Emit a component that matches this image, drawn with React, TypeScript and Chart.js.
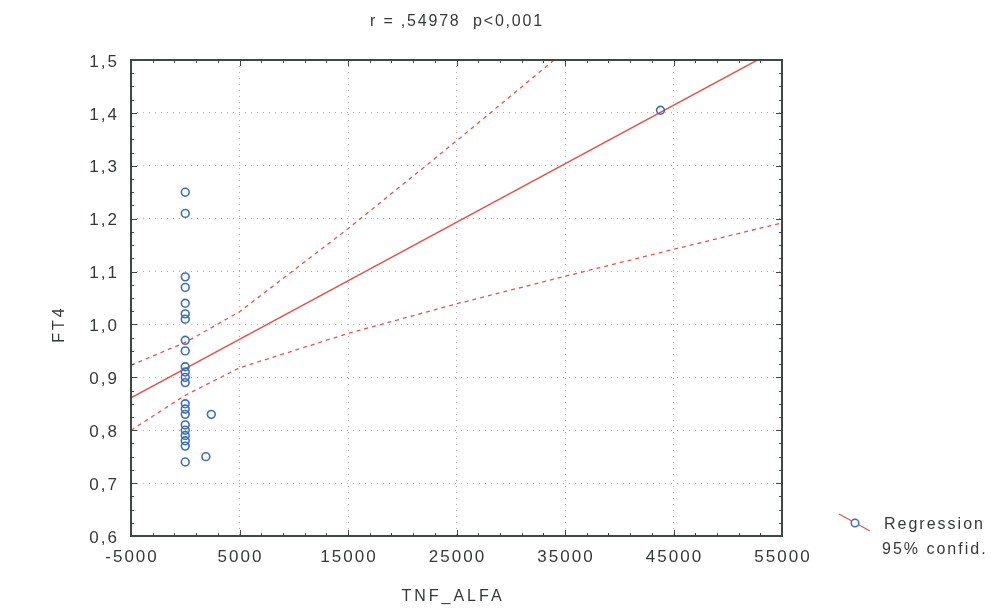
import React, { useEffect, useRef } from "react";
import { Chart, registerables } from "chart.js";

Chart.register(...registerables);

// ---- data ----
const tnfAlfa = [
  0, 0, 0, 0, 0, 0, 0, 0, 0, 0, 0, 0, 0, 0, 0, 0, 0, 0, 0, 0, 0, 0,
  1900, 2400, 43800,
];
const ft4 = [
  1.25, 1.21, 1.09, 1.07, 1.04, 1.02, 1.01, 0.97, 0.95, 0.92, 0.91, 0.9,
  0.89, 0.85, 0.84, 0.83, 0.81, 0.8, 0.79, 0.78, 0.77, 0.74,
  0.75, 0.83, 1.405,
];
const regX = [-5000, 55000];
const regY = [0.861, 1.525];
const bandX = [-5000, 0, 5000, 15000, 25000, 35000, 45000, 55000];
const bandUpper = [0.923, 0.966, 1.024, 1.181, 1.347, 1.517, 1.688, 1.858];
const bandLower = [0.8, 0.866, 0.918, 0.983, 1.039, 1.091, 1.142, 1.192];
const xTicks = [-5000, 5000, 15000, 25000, 35000, 45000, 55000];
const yTicks = [0.6, 0.7, 0.8, 0.9, 1.0, 1.1, 1.2, 1.3, 1.4, 1.5];
const titleText = "r = ,54978  p<0,001";
const xTitle = "TNF_ALFA";
const yTitle = "FT4";
const legendLabels = ["Regression", "95% confid."];

const RED = "#e0564f";
const BLUE = "#3f6fb0";
const FRAME = "#3e4842";
const TEXT = "#353a37";
const FONT = '"Liberation Sans", Arial, sans-serif';

const overlay = {
  id: "overlay",
  afterDraw(chart: any) {
    const { ctx, chartArea: a } = chart;
    const x = chart.scales.x;
    const y = chart.scales.y;
    ctx.save();
    // frame
    ctx.strokeStyle = FRAME;
    ctx.lineWidth = 2;
    ctx.setLineDash([]);
    ctx.strokeRect(a.left, a.top, a.right - a.left, a.bottom - a.top);
    // minor / major ticks (inward)
    ctx.lineWidth = 1;
    for (let v = x.min; v <= x.max + 1; v += 2000) {
      const px = Math.round(x.getPixelForValue(v)) + 0.5;
      const major = xTicks.includes(v);
      const len = major ? 6 : 3;
      ctx.beginPath();
      ctx.moveTo(px, a.bottom);
      ctx.lineTo(px, a.bottom - len);
      ctx.moveTo(px, a.top);
      ctx.lineTo(px, a.top + len);
      ctx.stroke();
    }
    for (let i = 0; i <= 36; i++) {
      const v = y.min + i * 0.025;
      const py = Math.round(y.getPixelForValue(v)) + 0.5;
      const len = i % 4 === 0 ? 6 : 3;
      ctx.beginPath();
      ctx.moveTo(a.left, py);
      ctx.lineTo(a.left + len, py);
      ctx.moveTo(a.right, py);
      ctx.lineTo(a.right - len, py);
      ctx.stroke();
    }
    // tick labels
    ctx.fillStyle = TEXT;
    ctx.font = `17px ${FONT}`;
    (ctx as any).letterSpacing = "2px";
    ctx.textBaseline = "middle";
    ctx.textAlign = "right";
    yTicks.forEach((v) => {
      ctx.fillText(v.toFixed(1).replace(".", ","), 119, y.getPixelForValue(v) + 2);
    });
    ctx.textAlign = "center";
    xTicks.forEach((v) => {
      ctx.fillText(String(v), x.getPixelForValue(v) + 1, a.bottom + 21);
    });
    // title
    ctx.font = `16px ${FONT}`;
    (ctx as any).letterSpacing = "1.8px";
    ctx.fillText(titleText, 457, 22);
    // axis titles
    (ctx as any).letterSpacing = "3px";
    ctx.fillText(xTitle, 453, 597);
    ctx.save();
    ctx.translate(60, 324);
    ctx.rotate(-Math.PI / 2);
    ctx.fillText(yTitle, 0, 0);
    ctx.restore();
    // legend
    ctx.strokeStyle = RED;
    ctx.lineWidth = 1.2;
    ctx.beginPath();
    ctx.moveTo(839, 514);
    ctx.lineTo(870, 531);
    ctx.stroke();
    ctx.strokeStyle = BLUE;
    ctx.lineWidth = 1.5;
    ctx.beginPath();
    ctx.arc(855, 523, 3.8, 0, Math.PI * 2);
    ctx.fillStyle = "#ffffff";
    ctx.fill();
    ctx.stroke();
    ctx.fillStyle = TEXT;
    ctx.font = `16px ${FONT}`;
    (ctx as any).letterSpacing = "2px";
    ctx.textAlign = "left";
    ctx.fillText(legendLabels[0], 884, 525);
    ctx.fillText(legendLabels[1], 882, 550);
    ctx.restore();
  },
};

export default function App() {
  const ref = useRef<HTMLCanvasElement | null>(null);
  useEffect(() => {
    if (!ref.current) return;
    const chart = new Chart(ref.current, {
      type: "scatter",
      data: {
        datasets: [
          {
            label: "points",
            data: tnfAlfa.map((v, i) => ({ x: v, y: ft4[i] })),
            pointRadius: 3.9,
            pointBorderWidth: 1.6,
            pointBorderColor: BLUE,
            pointBackgroundColor: "rgba(0,0,0,0)",
            order: 0,
          },
          {
            label: "Regression",
            data: regX.map((v, i) => ({ x: v, y: regY[i] })),
            showLine: true,
            borderColor: RED,
            borderWidth: 1.5,
            pointRadius: 0,
            order: 1,
          },
          {
            label: "upper",
            data: bandX.map((v, i) => ({ x: v, y: bandUpper[i] })),
            showLine: true,
            borderColor: RED,
            borderWidth: 1.3,
            borderDash: [4, 4],
            pointRadius: 0,
            order: 2,
          },
          {
            label: "lower",
            data: bandX.map((v, i) => ({ x: v, y: bandLower[i] })),
            showLine: true,
            borderColor: RED,
            borderWidth: 1.3,
            borderDash: [4, 4],
            pointRadius: 0,
            order: 2,
          },
        ],
      },
      options: {
        animation: false,
        responsive: false,
        devicePixelRatio: 1,
        layout: { padding: { left: 131, right: 216, top: 60, bottom: 75 } },
        plugins: { legend: { display: false }, tooltip: { enabled: false }, title: { display: false } },
        scales: {
          x: {
            type: "linear",
            min: -5000,
            max: 55000,
            ticks: { display: false, stepSize: 10000 },
            grid: { color: "#b0b0b0", drawTicks: false, lineWidth: 1 },
            border: { display: false, dash: [1, 5] },
          },
          y: {
            type: "linear",
            min: 0.6,
            max: 1.5,
            ticks: { display: false, stepSize: 0.1 },
            grid: { color: "#b0b0b0", drawTicks: false, lineWidth: 1 },
            border: { display: false, dash: [1, 5] },
          },
        },
      },
      plugins: [overlay],
    });
    return () => chart.destroy();
  }, []);
  return (
    <div style={{ position: "fixed", left: 0, top: 0, width: 998, height: 611, background: "#fff" }}>
      <canvas ref={ref} width={998} height={611} />
    </div>
  );
}
